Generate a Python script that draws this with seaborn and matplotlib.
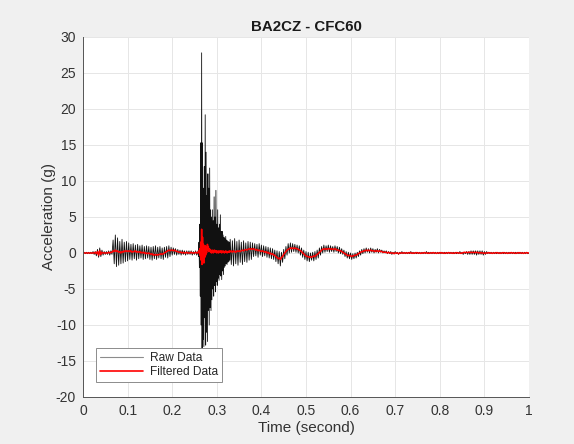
import numpy as np
import pandas as pd
import matplotlib
matplotlib.use("Agg")
import matplotlib.pyplot as plt
import seaborn as sns

# Sampling segments: pre-impact, impact (finer sampling), post-impact
pre_start, pre_step = 0.0, 0.0025
imp_start, imp_step = 0.258, 0.001
post_start, post_step = 0.33, 0.0025

raw_pre = [
    0.0, 0.1, -0.1, 0.1, -0.1, 0.1, -0.1, 0.1, -0.1, 0.2, -0.2, 0.2, -0.4, 0.5, -0.6, 0.7, -0.5, 0.4, -0.3, 0.2,
    -0.2, 0.2, -0.2, 0.3, -0.3, 0.3, -0.2, 1.8, -1.5, 2.5, -1.9, 2.1, -1.7, 1.6, -1.5, 1.9, -1.4, 1.5, -1.2, 1.6,
    -1.1, 1.4, -0.9, 1.2, -1.0, 1.3, -0.8, 1.1, -1.0, 1.2, -0.8, 1.0, -0.7, 1.1, -0.9, 0.9, -0.8, 1.0, -0.7, 0.9,
    -0.9, 0.8, -1.0, 0.9, -0.8, 1.0, -0.9, 0.8, -0.7, 0.9, -0.8, 0.7, -0.9, 0.8, -0.6, 0.9, -0.7, 1.0, -0.5, 0.8,
    -0.3, 0.7, -0.2, 0.6, -0.3, 0.5, -0.2, 0.4, -0.3, 0.4, -0.2, 0.3, -0.3, 0.3, -0.2, 0.3, -0.2, 0.3, -0.3, 0.2,
    -0.2, 0.3, -0.3, 0.2,
]
raw_impact = [
    0.3, -0.5, 1.5, -2.0, 4.0, -6.0, 15.3, -10.0, 27.8, -13.5,
    15.3, -12.0, 9.0, -13.0, 12.0, -9.0, 19.2, -12.8, 14.0, -11.0,
    8.0, -12.3, 11.0, -8.0, 9.0, -10.0, 11.8, -7.6, 6.0, -8.0,
    5.0, -6.5, 6.0, -5.0, 4.5, -6.0, 7.8, -4.5, 5.0, -5.4,
    8.7, -4.0, 4.0, -4.5, 6.0, -3.5, 3.5, -3.8, 4.0, -3.0,
    5.3, -3.2, 3.0, -3.7, 3.0, -2.5, 2.5, -3.0, 2.2, -2.0,
    2.0, -1.8, 2.3, -1.5, 1.8, -1.6, 1.7, -1.3, 1.6, -1.2,
    1.5, -1.0,
]
raw_post = [
    1.9, -1.6, 1.7, -1.8, 2.0, -1.5, 1.6, -1.7, 1.8, -1.3, 1.5, -1.6, 1.7, -1.2, 1.4, -1.3, 1.6, -1.0, 1.5, -0.9,
    1.4, -0.5, 1.3, -0.4, 1.2, -0.6, 1.3, -0.3, 1.1, -0.5, 1.0, -0.4, 0.9, -0.6, 0.8, -0.7, 0.7, -0.8, 0.6, -0.9,
    0.4, -1.2, 0.3, -1.5, 0.2, -1.8, 0.1, -1.3, 0.5, -0.8, 0.9, -0.3, 1.3, 0.0, 1.4, 0.1, 1.3, 0.2, 1.2, 0.1,
    1.1, 0.0, 1.0, -0.3, 0.7, -0.6, 0.4, -0.9, 0.2, -1.1, 0.1, -1.2, 0.0, -1.0, 0.1, -1.1, 0.2, -0.9, 0.4, -0.7,
    0.7, -0.3, 0.9, 0.0, 1.1, 0.1, 1.0, 0.2, 1.1, 0.1, 1.0, 0.2, 0.9, 0.1, 1.0, 0.2, 0.9, 0.0, 0.8, -0.1,
    0.6, -0.2, 0.4, -0.5, 0.2, -0.7, 0.1, -0.8, 0.0, -0.9, -0.1, -0.8, 0.0, -0.7, 0.1, -0.5, 0.3, -0.3, 0.5, -0.1,
    0.6, 0.0, 0.7, 0.1, 0.6, 0.0, 0.7, 0.1, 0.6, 0.0, 0.5, 0.1, 0.6, 0.0, 0.5, 0.1, 0.4, 0.0, 0.3, 0.0,
    0.3, -0.1, 0.2, -0.1, 0.2, -0.2, 0.1, -0.1, 0.2, -0.1, 0.1, -0.2, 0.1, -0.1, 0.2, -0.1, 0.1, -0.1, 0.1, -0.1,
    0.1, -0.1, 0.2, -0.1, 0.1, -0.1, 0.1, -0.1, 0.1, -0.1, 0.1, -0.1, 0.1, -0.1, 0.1, -0.1, 0.2, -0.1, 0.1, -0.1,
    0.1, -0.1, 0.1, -0.1, 0.1, -0.1, 0.1, -0.1, 0.1, -0.1, 0.1, -0.1, 0.1, -0.1, 0.1, -0.1, 0.1, -0.1, 0.1, -0.1,
    0.1, -0.1, 0.1, -0.1, 0.1, -0.1, 0.2, -0.1, 0.1, -0.2, 0.1, -0.1, 0.2, -0.2, 0.2, -0.2, 0.3, -0.2, 0.3, -0.2,
    0.3, -0.3, 0.3, -0.2, 0.3, -0.2, 0.3, -0.3, 0.2, -0.2, 0.2, -0.1, 0.1, -0.1, 0.1, -0.1, 0.1, -0.1, 0.1, -0.1,
    0.1, -0.1, 0.1, -0.1, 0.1, -0.1, 0.1, -0.1, 0.1, -0.1, 0.1, -0.1, 0.1, -0.1, 0.1, -0.1, 0.1, -0.1, 0.1, -0.1,
    0.1, -0.1, 0.1, -0.1, 0.1, -0.1, 0.1, -0.1, 0.0,
]

filt_pre = [
    0.0, 0.0, 0.0, 0.0, 0.0, 0.0, 0.0, 0.0, 0.0, 0.0, 0.0, 0.1, -0.1, 0.2, -0.3, 0.3, -0.2, 0.1, 0.0, 0.0,
    0.0, 0.0, 0.0, 0.1, 0.0, 0.1, 0.1, 0.3, 0.2, 0.4, 0.2, 0.3, 0.1, 0.2, 0.0, 0.2, 0.1, 0.3, 0.2, 0.3,
    0.2, 0.3, 0.2, 0.3, 0.1, 0.2, 0.2, 0.3, 0.1, 0.2, 0.1, 0.2, 0.0, 0.1, 0.0, 0.1, -0.1, 0.0, -0.1, 0.0,
    -0.1, -0.2, -0.1, -0.3, -0.2, -0.3, -0.2, -0.3, -0.2, -0.2, -0.1, -0.2, -0.1, 0.0, 0.1, 0.2, 0.3, 0.4, 0.3, 0.4,
    0.4, 0.3, 0.4, 0.3, 0.2, 0.2, 0.1, 0.1, 0.1, 0.0, 0.1, 0.0, 0.0, 0.1, 0.0, 0.0, 0.0, 0.1, 0.0, 0.0,
    0.0, 0.1, 0.0, 0.1,
]
filt_impact = [
    0.0, 0.1, 0.3, 0.2, 0.6, -0.4, 1.5, -1.0, 3.3, -1.6,
    2.2, -1.2, 1.2, -1.4, 0.9, -0.6, 1.0, -0.3, 0.8, 0.0,
    0.5, 1.2, 0.4, 0.9, 0.2, 0.6, 0.3, 0.5, 0.1, 0.4,
    0.0, 0.3, 0.1, 0.4, 0.0, 0.3, 0.2, 0.4, 0.1, 0.3,
    0.2, 0.3, 0.0, 0.2, 0.1, 0.3, 0.0, 0.2, 0.1, 0.3,
    0.2, 0.1, 0.3, 0.0, 0.2, 0.1, 0.3, 0.1, 0.2, 0.0,
    0.2, 0.1, 0.3, 0.1, 0.2, 0.0, 0.2, 0.1, 0.2, 0.1,
    0.3, 0.1,
]
filt_post = [
    0.2, 0.3, 0.1, 0.3, 0.2, 0.1, 0.3, 0.2, 0.3, 0.2, 0.3, 0.4, 0.3, 0.4, 0.5, 0.4, 0.5, 0.6, 0.5, 0.6,
    0.5, 0.6, 0.5, 0.4, 0.5, 0.3, 0.4, 0.3, 0.2, 0.3, 0.2, 0.1, 0.2, 0.0, 0.1, -0.1, 0.0, -0.2, -0.1, -0.3,
    -0.3, -0.5, -0.6, -0.8, -0.7, -0.9, -0.6, -0.5, -0.2, 0.0, 0.2, 0.4, 0.5, 0.6, 0.7, 0.6, 0.7, 0.6, 0.7, 0.6,
    0.6, 0.5, 0.4, 0.3, 0.2, 0.0, -0.1, -0.3, -0.4, -0.5, -0.5, -0.6, -0.5, -0.6, -0.5, -0.4, -0.5, -0.3, -0.2, -0.1,
    0.1, 0.2, 0.4, 0.5, 0.6, 0.5, 0.6, 0.5, 0.6, 0.6, 0.5, 0.6, 0.5, 0.5, 0.6, 0.5, 0.4, 0.4, 0.3, 0.3,
    0.2, 0.1, 0.0, -0.1, -0.2, -0.3, -0.4, -0.3, -0.4, -0.5, -0.4, -0.4, -0.3, -0.3, -0.2, -0.1, 0.0, 0.1, 0.2, 0.2,
    0.3, 0.3, 0.4, 0.3, 0.4, 0.3, 0.4, 0.3, 0.3, 0.3, 0.2, 0.3, 0.3, 0.2, 0.3, 0.2, 0.2, 0.1, 0.1, 0.1,
    0.1, 0.0, 0.1, 0.0, 0.0, 0.0, 0.0, -0.1, 0.0, 0.0, 0.0, -0.1, 0.0, 0.0, 0.0, 0.0, 0.0, 0.0, 0.0, 0.0,
    0.0, 0.05, 0.0, 0.0, -0.05, 0.0, 0.0, 0.05, 0.0, 0.0, 0.0, -0.05, 0.0, 0.0, 0.05, 0.0, 0.0, 0.0, -0.05, 0.0,
    0.0, 0.0, 0.05, 0.0, 0.0, -0.05, 0.0, 0.0, 0.0, 0.05, 0.0, 0.0, -0.05, 0.0, 0.0, 0.0, 0.05, 0.0, 0.0, 0.0,
    -0.05, 0.0, 0.0, 0.05, 0.0, 0.0, 0.0, -0.05, 0.0, 0.05, 0.1, 0.05, 0.1, 0.05, 0.1, 0.1, 0.05, 0.1, 0.05, 0.1,
    0.05, 0.1, 0.05, 0.05, 0.0, 0.05, 0.0, 0.0, -0.05, 0.0, 0.0, 0.0, 0.05, 0.0, 0.0, -0.05, 0.0, 0.0, 0.0, 0.05,
    0.0, 0.0, -0.05, 0.0, 0.0, 0.05, 0.0, 0.0, 0.0, -0.05, 0.0, 0.0, 0.05, 0.0, 0.0, 0.0, -0.05, 0.0, 0.0, 0.05,
    0.0, 0.0, 0.0, -0.05, 0.0, 0.0, 0.05, 0.0, 0.0,
]

x_ticks = [0, 0.1, 0.2, 0.3, 0.4, 0.5, 0.6, 0.7, 0.8, 0.9, 1]
x_tick_labels = ["0", "0.1", "0.2", "0.3", "0.4", "0.5", "0.6", "0.7", "0.8", "0.9", "1"]
y_ticks = [-20, -15, -10, -5, 0, 5, 10, 15, 20, 25, 30]


def seg_time(start, step, n):
    return start + step * np.arange(n)


time = np.concatenate([
    seg_time(pre_start, pre_step, len(raw_pre)),
    seg_time(imp_start, imp_step, len(raw_impact)),
    seg_time(post_start, post_step, len(raw_post)),
])
df = pd.DataFrame({
    "Time": time,
    "Raw": raw_pre + raw_impact + raw_post,
    "Filtered": filt_pre + filt_impact + filt_post,
})

sns.set_style("whitegrid")
plt.rcParams["font.family"] = ["Liberation Sans", "DejaVu Sans"]
plt.rcParams["axes.unicode_minus"] = False

fig = plt.figure(figsize=(5.74, 4.44), dpi=100, facecolor="#f0f0f0")
ax = fig.add_axes([0.1446, 0.1059, 0.777, 0.8108])
ax.set_facecolor("white")

sns.lineplot(data=df, x="Time", y="Raw", ax=ax, color="#111111", linewidth=0.6,
             estimator=None, sort=False, label="Raw Data")
sns.lineplot(data=df, x="Time", y="Filtered", ax=ax, color="#ff0000", linewidth=1.1,
             estimator=None, sort=False, label="Filtered Data")

ax.set_xlim(0, 1)
ax.set_ylim(-20, 30)
ax.set_xticks(x_ticks)
ax.set_xticklabels(x_tick_labels)
ax.set_yticks(y_ticks)
ax.grid(True, color="#e6e6e6", linewidth=0.7)
ax.tick_params(axis="both", direction="in", length=4, width=0.6, color="#333333",
               labelsize=10, labelcolor="#333333", pad=5)
for side in ["top", "right"]:
    ax.spines[side].set_visible(False)
for side in ["left", "bottom"]:
    ax.spines[side].set_color("#555555")
    ax.spines[side].set_linewidth(0.7)

ax.set_xlabel("Time (second)", fontsize=11, color="#333333", labelpad=2)
ax.set_ylabel("Acceleration (g)", fontsize=11, color="#333333", labelpad=0)
ax.set_title("BA2CZ - CFC60", fontsize=10.8, fontweight="bold", color="#1a1a1a", pad=4)

leg = ax.legend(loc="lower left", bbox_to_anchor=(0.015, 0.025), fontsize=8.6,
                frameon=True, fancybox=False, framealpha=1, edgecolor="#8c8c8c",
                handlelength=3.6, borderpad=0.35, labelspacing=0.15, handletextpad=0.6)
leg.get_frame().set_linewidth(0.7)
for line in leg.get_lines():
    line.set_linewidth(1.2)
leg.get_lines()[0].set_color("#8c8c8c")
leg.get_lines()[0].set_linewidth(0.8)

fig.savefig("out.png", dpi=100, facecolor=fig.get_facecolor())
